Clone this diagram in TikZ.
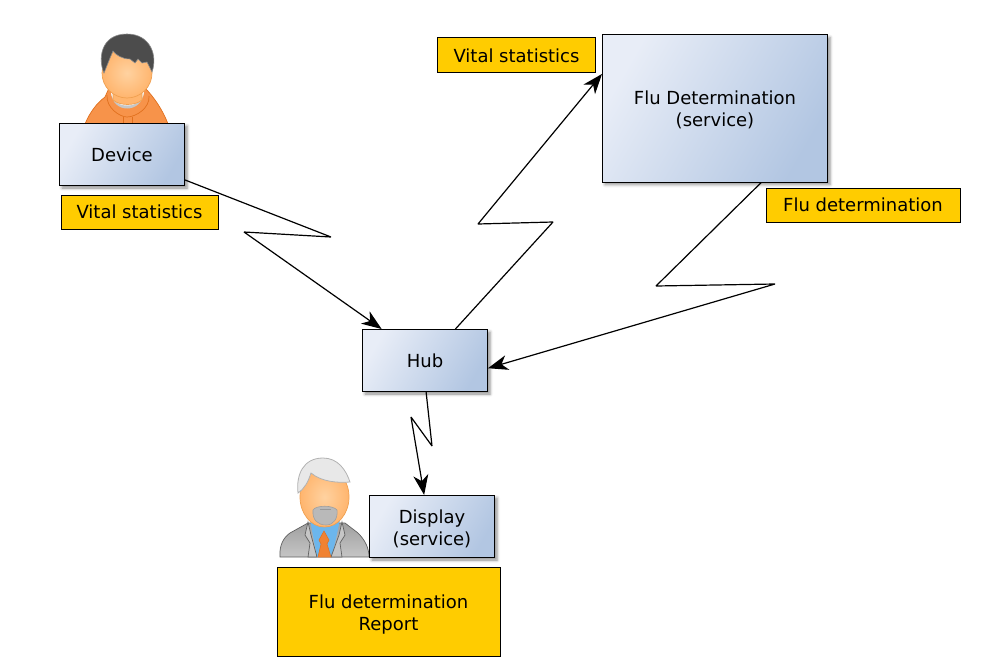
\documentclass[tikz,border=0pt]{standalone}
\usepackage{fontspec}
\setmainfont{DejaVu Sans}
\usetikzlibrary{shadows.blur,arrows.meta}
\definecolor{notecol}{HTML}{FFCC00}
\definecolor{boxlight}{HTML}{E8EDF7}
\definecolor{boxdark}{HTML}{B2C6E2}
\definecolor{skin}{HTML}{FFD2A0}
\definecolor{skindark}{HTML}{FFB56E}
\definecolor{skinline}{HTML}{F0A050}
\definecolor{hood}{HTML}{F7934A}
\definecolor{hoodline}{HTML}{E0701E}
\definecolor{shirt}{HTML}{6CB6EC}
\definecolor{tie}{HTML}{F08232}
\tikzset{
    servicebox/.style={draw=black, line width=1pt, align=center, inner sep=0pt, font=\fontsize{18}{22}\selectfont,
        blur shadow={shadow xshift=2.5pt, shadow yshift=-2.5pt, shadow blur radius=3pt, shadow opacity=45},
        shading=axis, left color=boxlight, right color=boxdark, shading angle=60},
    notebox/.style={draw=black, line width=1pt, fill=notecol, align=center, inner sep=0pt, font=\fontsize{18}{22}\selectfont},
    wireless/.style={draw=black, line width=1.2pt, line join=bevel, -{Stealth[length=20pt, width=15pt, inset=6pt]}},
    face/.style={draw=skinline, line width=0.7pt, inner color=skin, outer color=skindark},
    suit/.style={draw=gray!75!black, line width=0.7pt},
    coat/.style={draw=hoodline, line width=0.7pt}
}
\begin{document}
\begin{tikzpicture}[x=1pt, y=-1pt]
    \useasboundingbox (0, 0) rectangle (1004, 669);

    % user with the device
    \filldraw[coat, fill=hood] (85, 124) .. controls (90, 112) and (97, 103) .. (105, 97) -- (109, 88)
        -- (145, 88) .. controls (152, 95) and (162, 108) .. (168, 124) -- cycle;
    \draw[coat] (107, 95) .. controls (106, 108) and (120, 117) .. (127, 117) .. controls (136, 117) and (150, 108) .. (149, 96);
    \draw[coat] (123, 117) -- (123, 124) (132, 117) -- (132, 124);
    \fill[gray!45] (111, 92) .. controls (112, 114) and (142, 114) .. (144, 92) -- cycle;
    \fill[white] (111, 92) .. controls (112, 110) and (142, 110) .. (144, 92) -- cycle;
    \filldraw[draw=skinline, line width=0.7pt, fill=skindark] (113, 90) -- (113, 100) .. controls (120, 106) and (135, 106) .. (142, 100) -- (142, 90) -- cycle;
    \shade[face] (127, 73) ellipse (25 and 25);
    \filldraw[fill=black!70, draw=black!45, line width=0.6pt] (104, 73) .. controls (98, 60) and (100, 34) .. (127, 34)
        .. controls (150, 34) and (158, 55) .. (152, 72) -- (147, 62) -- (142, 63) -- (138, 59) -- (135, 63) -- (130, 59)
        .. controls (122, 59) and (116, 55) .. (113, 51) -- (110, 58) -- cycle;

    % user with the display
    \shade[suit, top color=gray!75, bottom color=gray!45] (280, 557) .. controls (279, 545) and (284, 537) .. (290, 533)
        -- (308, 523) -- (345, 523) -- (358, 533) .. controls (365, 540) and (369, 548) .. (369, 557) -- cycle;
    \fill[shirt] (310, 520) -- (340, 520) -- (332, 557) -- (317, 557) -- cycle;
    \filldraw[suit, fill=gray!45] (308, 522) -- (305, 535) -- (310, 543) -- (308, 557) -- (317, 557) -- (311, 535) -- cycle;
    \filldraw[suit, fill=gray!45] (342, 522) -- (345, 535) -- (340, 543) -- (342, 557) -- (331, 557) -- (339, 535) -- cycle;
    \filldraw[fill=tie, draw=hoodline, line width=0.5pt] (324, 531) -- (329, 540) -- (327, 544) -- (331, 557) -- (318, 557) -- (321, 544) -- (319, 540) -- cycle;
    \shade[face] (324.5, 497) ellipse (24.5 and 30);
    \filldraw[fill=gray!55, draw=gray!75, line width=0.6pt] (313, 510) .. controls (316, 505) and (333, 505) .. (337, 510)
        .. controls (338, 518) and (334, 525) .. (326, 525) .. controls (318, 525) and (312, 520) .. (313, 510) -- cycle;
    \draw[gray!80, line width=1pt] (320, 509.5) -- (331, 509.5);
    \filldraw[fill=gray!18, draw=gray!60, line width=0.8pt] (298, 493) .. controls (296, 475) and (303, 458) .. (323, 458)
        .. controls (338, 458) and (346, 470) .. (350, 482) .. controls (338, 483) and (322, 482) .. (311, 473)
        .. controls (308, 482) and (305, 488) .. (298, 493) -- cycle;

    % boxes
    \node[servicebox, minimum width=125pt, minimum height=62pt, text depth=-1.5pt] (device) at (122, 154.5) {Device};
    \node[notebox, minimum width=157pt, minimum height=34pt, text depth=-1pt] (vitalA) at (139.5, 212) {Vital statistics};
    \node[servicebox, minimum width=125pt, minimum height=62pt, yshift=-0.5pt] (hub) at (425, 360) {Hub};
    \node[servicebox, minimum width=225pt, minimum height=147pt, text height=38pt] (flu) at (715, 108.5) {Flu Determination\\(service)};
    \node[notebox, minimum width=158pt, minimum height=35pt] (vitalB) at (516.5, 55.5) {Vital statistics};
    \node[notebox, minimum width=194pt, minimum height=34pt] (fluNote) at (863, 205) {Flu determination};
    \node[servicebox, minimum width=125pt, minimum height=62pt, text height=40pt] (display) at (432, 526.5) {Display\\(service)};
    \node[notebox, minimum width=223pt, minimum height=89pt, text height=42pt] (report) at (388.5, 611.5) {Flu determination\\Report};

    % bends of the wireless links
    \coordinate (bendA) at (331, 237);
    \coordinate (bendB) at (244, 232);
    \coordinate (bendC) at (553, 222);
    \coordinate (bendD) at (478, 224);
    \coordinate (bendE) at (656, 286);
    \coordinate (bendF) at (775, 284);
    \coordinate (bendG) at (432, 446);
    \coordinate (bendH) at (411, 417);

    \draw[wireless] (device.-22) -- (bendA) -- (bendB) -- (hub.144.8);
    \draw[wireless] (hub.46) -- (bendC) -- (bendD) -- (flu.163.5);
    \draw[wireless] (flu.-58.5) -- (bendE) -- (bendF) -- (hub.-7.2);
    \draw[wireless] (hub.-88) -- (bendG) -- (bendH) -- (display.104);
\end{tikzpicture}
\end{document}
